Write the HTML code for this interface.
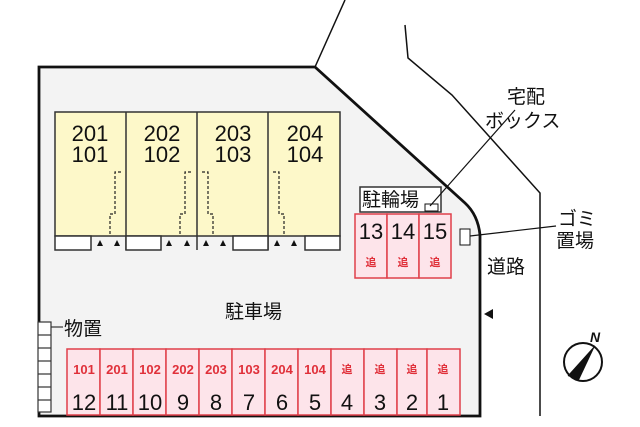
<!DOCTYPE html>
<html><head><meta charset="utf-8"><style>
html,body{margin:0;padding:0;background:#fff;}
svg{display:block;}
text{font-family:"Liberation Sans","Noto Sans CJK JP",sans-serif;}
</style></head><body>
<svg width="640" height="427" viewBox="0 0 640 427" xmlns="http://www.w3.org/2000/svg">
<rect width="640" height="427" fill="#fff"/>
<path d="M39,67 L315,67 L465,203 Q478,215 480,235 L480,416 L39,416 Z" fill="#f3f3f3" stroke="#111" stroke-width="2.8"/>
<path d="M315,67 L345,0" stroke="#111" stroke-width="1.5" fill="none"/>
<path d="M405,25 L408,58 L452,95 L540,193 L540,416" stroke="#111" stroke-width="1.5" fill="none"/>
<g stroke="#333" stroke-width="1.5">
<rect x="55" y="112" width="285" height="124" fill="#fdf8c9"/>
<line x1="126" y1="112" x2="126" y2="250"/>
<line x1="197" y1="112" x2="197" y2="250"/>
<line x1="268" y1="112" x2="268" y2="250"/>
<rect x="55" y="236" width="36" height="14" fill="#fff"/>
<rect x="126" y="236" width="35" height="14" fill="#fff"/>
<rect x="233" y="236" width="35" height="14" fill="#fff"/>
<rect x="305" y="236" width="35" height="14" fill="#fff"/>
</g>
<g stroke="#222" stroke-width="1.2" stroke-dasharray="3,2" fill="none">
<path d="M121,172 L115,172 L115,214 L110,214 L110,236"/>
<path d="M191,172 L185,172 L185,214 L180,214 L180,236"/>
<path d="M202,172 L208,172 L208,214 L213,214 L213,236"/>
<path d="M273,172 L279,172 L279,214 L284,214 L284,236"/>
</g>
<g fill="#111">
<path d="M97,246 l3,-6 l3,6z M114,246 l3,-6 l3,6z M166,246 l3,-6 l3,6z M184,246 l3,-6 l3,6z M203,246 l3,-6 l3,6z M220,246 l3,-6 l3,6z M274,246 l3,-6 l3,6z M291,246 l3,-6 l3,6z"/>
</g>
<g font-size="22" text-anchor="middle" fill="#111">
<text x="90" y="141">201</text><text x="90" y="162">101</text>
<text x="162" y="141">202</text><text x="162" y="162">102</text>
<text x="233" y="141">203</text><text x="233" y="162">103</text>
<text x="305" y="141">204</text><text x="305" y="162">104</text>
</g>
<rect x="360" y="187" width="81" height="25" fill="#fff" stroke="#333" stroke-width="1.5"/>
<text x="362" y="206" font-size="19" fill="#111">駐輪場</text>
<rect x="425" y="204" width="13" height="7" fill="#fff" stroke="#111"/>
<line x1="430" y1="206" x2="515" y2="110" stroke="#111" stroke-width="1.2"/>
<text x="507" y="103" font-size="19" fill="#111">宅配</text>
<text x="485" y="127" font-size="19" fill="#111">ボックス</text>
<g stroke="#e0404a" stroke-width="1.5" fill="#fde4ea">
<rect x="355" y="214" width="32" height="64"/><rect x="387" y="214" width="32" height="64"/><rect x="419" y="214" width="32" height="64"/>
</g>
<g font-size="22" text-anchor="middle" fill="#111">
<text x="371" y="239">13</text><text x="403" y="239">14</text><text x="435" y="239">15</text>
</g>
<g font-size="11" text-anchor="middle" fill="#e0303a" font-weight="bold">
<text x="371" y="266">追</text><text x="403" y="266">追</text><text x="435" y="266">追</text>
</g>
<rect x="460" y="229" width="10" height="16" fill="#fff" stroke="#111"/>
<line x1="470" y1="236" x2="556" y2="226" stroke="#111" stroke-width="1.2"/>
<text x="558" y="225" font-size="19" fill="#111">ゴミ</text>
<text x="556" y="247" font-size="19" fill="#111">置場</text>
<text x="487" y="273" font-size="19" fill="#111">道路</text>
<path d="M484,314 l9,-5 l0,10z" fill="#111"/>
<text x="225" y="318" font-size="19" fill="#111">駐車場</text>
<g stroke="#333" stroke-width="1.2" fill="#fff">
<rect x="38" y="322" width="13" height="90"/>
<line x1="38" y1="335" x2="51" y2="335"/><line x1="38" y1="348" x2="51" y2="348"/><line x1="38" y1="361" x2="51" y2="361"/><line x1="38" y1="374" x2="51" y2="374"/><line x1="38" y1="387" x2="51" y2="387"/><line x1="38" y1="400" x2="51" y2="400"/>
<line x1="51" y1="327" x2="63" y2="327"/>
</g>
<text x="64" y="335" font-size="19" fill="#111">物置</text>
<g stroke="#e0404a" stroke-width="1.5" fill="#fde4ea">
<rect x="67" y="349" width="33" height="66"/><rect x="100" y="349" width="33" height="66"/><rect x="133" y="349" width="33" height="66"/><rect x="166" y="349" width="33" height="66"/><rect x="199" y="349" width="33" height="66"/><rect x="232" y="349" width="33" height="66"/><rect x="265" y="349" width="33" height="66"/><rect x="298" y="349" width="33" height="66"/><rect x="331" y="349" width="33" height="66"/><rect x="364" y="349" width="33" height="66"/><rect x="397" y="349" width="30" height="66"/><rect x="427" y="349" width="33" height="66"/>
</g>
<g font-size="13" text-anchor="middle" fill="#e0303a" font-weight="bold">
<text x="84" y="374">101</text><text x="117" y="374">201</text><text x="150" y="374">102</text><text x="183" y="374">202</text><text x="216" y="374">203</text><text x="249" y="374">103</text><text x="282" y="374">204</text><text x="315" y="374">104</text>
</g>
<g font-size="11" text-anchor="middle" fill="#e0303a" font-weight="bold">
<text x="347" y="373">追</text><text x="380" y="373">追</text><text x="412" y="373">追</text><text x="443" y="373">追</text>
</g>
<g font-size="22" text-anchor="middle" fill="#111">
<text x="84" y="410">12</text><text x="117" y="410">11</text><text x="150" y="410">10</text><text x="183" y="410">9</text><text x="216" y="410">8</text><text x="249" y="410">7</text><text x="282" y="410">6</text><text x="315" y="410">5</text><text x="347" y="410">4</text><text x="380" y="410">3</text><text x="412" y="410">2</text><text x="443" y="410">1</text>
</g>
<circle cx="583" cy="362" r="19" fill="#fff" stroke="#111" stroke-width="2"/>
<path d="M595,346 L568,376 L579,380 Z" fill="#111"/>
<path d="M595,346 L568,376" stroke="#111" stroke-width="1"/>
<text x="590" y="342" font-size="14" font-style="italic" font-weight="bold" fill="#111">N</text>
</svg>
</body></html>
